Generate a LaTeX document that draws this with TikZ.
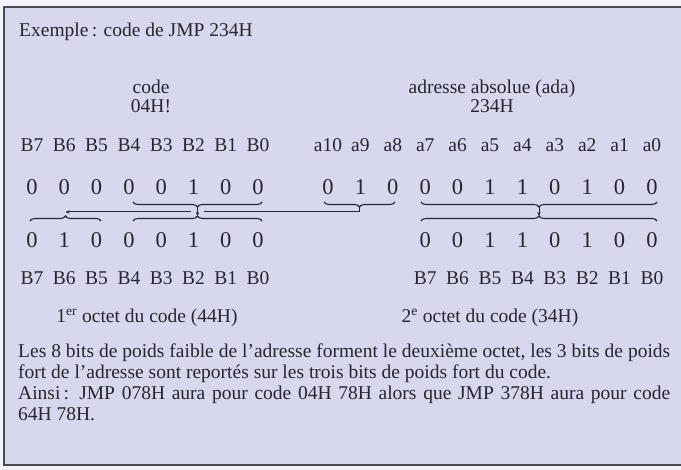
\documentclass[tikz,border=0pt]{standalone}
\usepackage{fontspec}
\setmainfont{Liberation Serif}
\usetikzlibrary{decorations.pathreplacing,arrows.meta}
\definecolor{bg}{HTML}{D7D7EE}
\definecolor{outer}{HTML}{F3F3F9}
\definecolor{ink}{HTML}{26262E}
\definecolor{frame}{HTML}{4A4A52}
\tikzset{
  txt/.style={font=\fontsize{19.5}{21}\selectfont, text=ink, inner sep=0pt, anchor=base},
  dig/.style={txt, font=\fontsize{22.5}{24}\selectfont},
  upbrace/.style={draw=ink, line width=1.1pt, decorate, decoration={brace, mirror, amplitude=5pt}},
  lobrace/.style={draw=ink, line width=1.1pt, decorate, decoration={brace, amplitude=5pt}},
  link/.style={draw=ink, line width=1pt},
  tipped/.style={draw=ink, line width=1pt, -{Stealth[length=4pt,width=3.5pt]}}
}
\begin{document}
\begin{tikzpicture}[x=1pt,y=-1pt]
\useasboundingbox (0,0) rectangle (681,470);
\fill[outer] (0,0) rectangle (681,470);
\fill[bg] (4,7) rectangle (683,465);
\draw[frame, line width=1.8pt] (690,7) -- (4,7) -- (4,465) -- (690,465);

\node[txt, anchor=base west] (title) at (19,37) {Exemple\,: code de JMP 234H};

\node[txt] (code) at (151,94) {code};
\node[txt] (codev) at (151,113) {04H!};
\node[txt] (ada) at (492,94) {adresse absolue (ada)};
\node[txt] (adav) at (492,113) {234H};

% left columns B7..B0
\foreach \lab [count=\i from 0] in {B7,B6,B5,B4,B3,B2,B1,B0} {
  \node[txt] (bA\i) at (32+32.3*\i,152) {\lab};
  \node[txt] (bB\i) at (32+32.3*\i,285) {\lab};
}
\foreach \v [count=\i from 0] in {0,0,0,0,0,1,0,0} {
  \node[dig] (dA\i) at (32+32.3*\i,195) {\v};
}
\foreach \v [count=\i from 0] in {0,1,0,0,0,1,0,0} {
  \node[dig] (dB\i) at (32+32.3*\i,248) {\v};
}
% right columns a10..a0
\foreach \lab [count=\j from 0] in {a10,a9,a8,a7,a6,a5,a4,a3,a2,a1,a0} {
  \node[txt] (aA\j) at (328+32.4*\j,152) {\lab};
}
\foreach \v [count=\j from 0] in {0,1,0,0,0,1,1,0,1,0,0} {
  \node[dig] (eA\j) at (328+32.4*\j,195) {\v};
}
\foreach \v [count=\j from 3] in {0,0,1,1,0,1,0,0} {
  \node[dig] (eB\j) at (328+32.4*\j,248) {\v};
}
\foreach \lab [count=\j from 3] in {B7,B6,B5,B4,B3,B2,B1,B0} {
  \node[txt] (cB\j) at (328+32.4*\j,285) {\lab};
}

% braces
\coordinate (m1L) at (133,202); \coordinate (m1R) at (262,202);
\coordinate (m2L) at (133,221); \coordinate (m2R) at (262,221);
\coordinate (l2L) at (30,221);  \coordinate (l2R) at (101,221);
\coordinate (h1L) at (324,202); \coordinate (h1R) at (395,202);
\coordinate (r1L) at (421,202); \coordinate (r1R) at (657,202);
\coordinate (r2L) at (421,221); \coordinate (r2R) at (657,221);
\draw[upbrace] (m1L) -- (m1R);
\draw[lobrace] (m2L) -- (m2R);
\draw[lobrace] (l2L) -- (l2R);
\draw[upbrace] (h1L) -- (h1R);
\draw[upbrace] (r1L) -- (r1R);
\draw[lobrace] (r2L) -- (r2R);

% tips
\coordinate (mUp) at (197.5,207); \coordinate (mLo) at (197.5,216);
\coordinate (rUp) at (539,207);   \coordinate (rLo) at (539,216);
\coordinate (hTip) at (359.5,207); \coordinate (hC) at (359.5,212);
\coordinate (gR) at (204,212); \coordinate (gL) at (191,212);
\coordinate (lC) at (65.5,212);
\draw[tipped] (mUp) -- (mLo);
\draw[tipped] (rUp) -- (rLo);
\draw[link] (hTip) -- (hC) -- (gR);
\draw[tipped] (gL) -- (lC);

\node[txt] (oct1) at (147,323) {1\textsuperscript{er} octet du code (44H)};
\node[txt] (oct2) at (490,323) {2\textsuperscript{e} octet du code (34H)};

\node[txt, anchor=base west] (para) at (18,358) {\parbox[t]{652pt}{%
\makebox[652pt][s]{Les 8 bits de poids faible de l’adresse forment le deuxième octet, les 3 bits de poids}\\
fort de l’adresse sont reportés sur les trois bits de poids fort du code.\\
\makebox[652pt][s]{Ainsi\,: JMP 078H aura pour code 04H 78H alors que JMP 378H aura pour code}\\
64H 78H.}};
\end{tikzpicture}
\end{document}
